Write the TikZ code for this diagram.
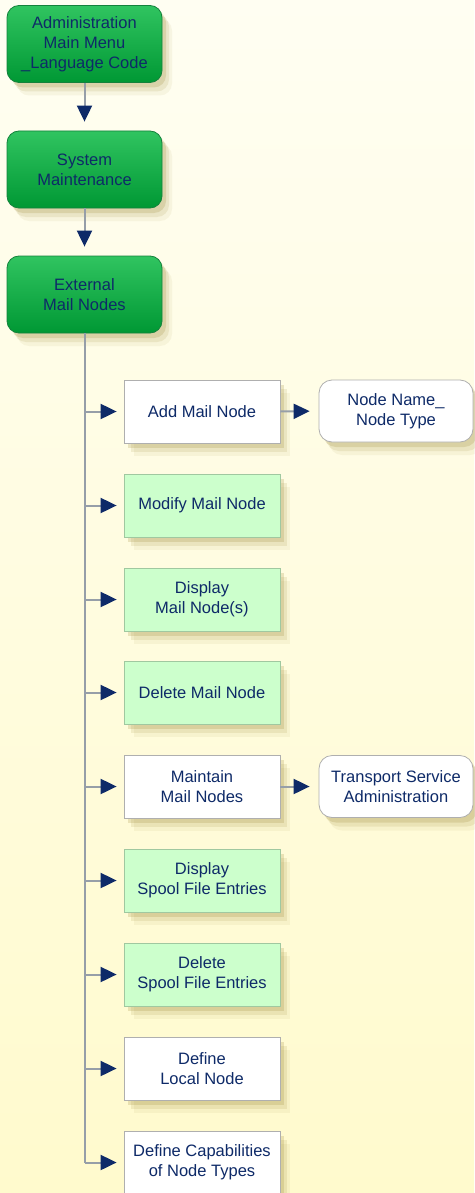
\documentclass[tikz,border=0pt]{standalone}
\usepackage{fontspec}
\setmainfont{Liberation Sans}
\usetikzlibrary{arrows.meta,shadows,shapes.misc}
\definecolor{navy}{RGB}{14,42,104}
\definecolor{gtop}{RGB}{48,196,96}
\definecolor{gbot}{RGB}{0,152,52}
\definecolor{gedge}{RGB}{20,130,60}
\definecolor{lgreen}{RGB}{204,255,204}
\definecolor{lgedge}{RGB}{160,200,160}
\definecolor{wedge}{RGB}{175,175,175}
\definecolor{linec}{RGB}{150,158,168}
\definecolor{shc}{RGB}{160,140,60}
\definecolor{bgtop}{RGB}{255,254,242}
\definecolor{bgbot}{RGB}{255,250,205}
\tikzset{
  softshadow/.style={
    general shadow={shadow xshift=10pt, shadow yshift=-13pt, fill=shc, opacity=.08},
    general shadow={shadow xshift=7pt, shadow yshift=-9pt, fill=shc, opacity=.14},
    general shadow={shadow xshift=4pt, shadow yshift=-5pt, fill=shc, opacity=.22}},
  txt/.style={text=navy, font=\fontsize{16.5}{20}\selectfont, align=center, inner sep=0pt},
  mainbox/.style={txt, softshadow, draw=gedge, line width=0.8pt, rounded corners=12pt,
    top color=gtop, bottom color=gbot, minimum width=155pt, minimum height=77pt},
  greenbox/.style={txt, softshadow, draw=lgedge, line width=0.8pt, fill=lgreen,
    minimum width=156pt, minimum height=63pt},
  whitebox/.style={txt, softshadow, draw=wedge, line width=0.8pt, fill=white,
    minimum width=156pt, minimum height=63pt},
  roundwhite/.style={txt, softshadow, draw=wedge, line width=0.8pt, fill=white,
    rounded corners=13pt, minimum width=154pt, minimum height=62pt},
  conn/.style={draw=linec, line width=2pt,
    -{Triangle[length=16pt,width=15pt,color=navy,fill=navy]}},
  trunk/.style={draw=linec, line width=2pt}
}
\begin{document}
\begin{tikzpicture}[x=1pt,y=-1pt]
\shade[top color=bgtop, bottom color=bgbot] (0,0) rectangle (474,1193);
\useasboundingbox (0,0) rectangle (474,1193);

\node[mainbox] (adm) at (84.5,44) {Administration\\Main Menu\\\_Language Code};
\node[mainbox] (sys) at (84.5,169.5) {System\\Maintenance};
\node[mainbox] (ext) at (84.5,294.5) {External\\Mail Nodes};

\node[whitebox] (add) at (202,411.5) {Add Mail Node};
\node[greenbox] (mod) at (202,505.5) {Modify Mail Node};
\node[greenbox] (dis) at (202,599.5) {Display\\Mail Node(s)};
\node[greenbox] (del) at (202,692.5) {Delete Mail Node};
\node[whitebox] (mai) at (202,786.5) {Maintain\\Mail Nodes};
\node[greenbox] (dsp) at (202,880.5) {Display\\Spool File Entries};
\node[greenbox] (dls) at (202,974.5) {Delete\\Spool File Entries};
\node[whitebox] (loc) at (202,1068.5) {Define\\Local Node};
\node[whitebox] (cap) at (202,1162.5) {Define Capabilities\\of Node Types};

\node[roundwhite] (nnt) at (396,411) {Node Name\_\\Node Type};
\node[roundwhite] (tsa) at (396,786.5) {Transport Service\\Administration};

\draw[conn, shorten >=9pt] (adm.south) -- (sys.north);
\draw[conn, shorten >=9pt] (sys.south) -- (ext.north);

\coordinate (tend) at (ext.south |- cap.west);
\draw[trunk] (ext.south) -- (tend);
\foreach \c in {add,mod,dis,del,mai,dsp,dls,loc,cap}{
  \draw[conn, shorten >=7pt] (ext.south |- \c.west) -- (\c.west);
}
\draw[conn, shorten >=9pt] (add.east) -- (nnt.west);
\draw[conn, shorten >=9pt] (mai.east) -- (tsa.west);
\end{tikzpicture}
\end{document}
